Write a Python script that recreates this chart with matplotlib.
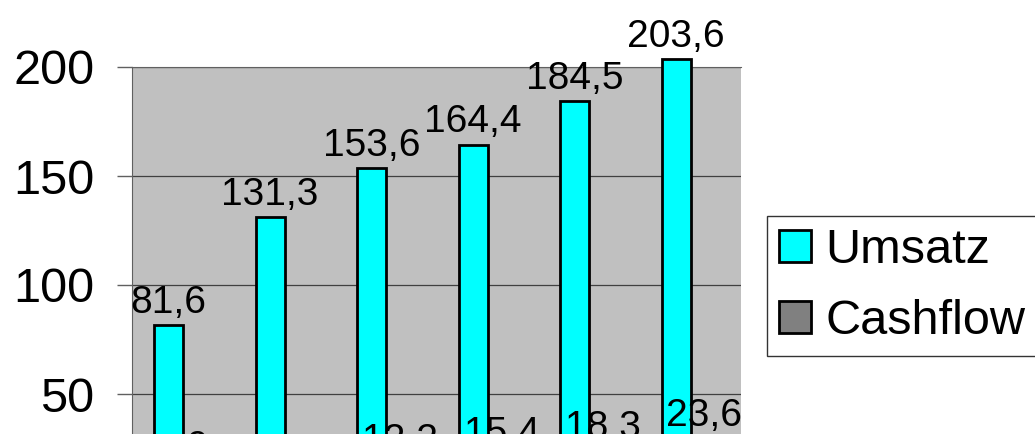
import matplotlib
matplotlib.use("Agg")
import matplotlib.pyplot as plt
import numpy as np

plt.rcParams['font.family'] = ['Liberation Sans', 'DejaVu Sans']

# data
jahre = ['1', '2', '3', '4', '5', '6']
umsatz = [81.6, 131.3, 153.6, 164.4, 184.5, 203.6]
cashflow = [9, 7.5, 12.2, 15.4, 18.3, 23.6]
y_ticks = [50, 100, 150, 200]


def fmt(v):
    # german decimal comma, whole numbers without decimals
    if float(v).is_integer():
        return str(int(v))
    return f"{v:.1f}".replace('.', ',')


fig = plt.figure(figsize=(10.35, 4.34), dpi=100)
# plot area runs below the picture edge (the original is cropped)
ax = fig.add_axes([132 / 1035, (434 - 503) / 434, 609 / 1035, 436 / 434])
ax.set_facecolor('#c0c0c0')

x = np.arange(len(jahre))
w = 0.286
off = 0.14

b1 = ax.bar(x - off, umsatz, w, color='#00ffff', edgecolor='black', linewidth=2,
            label='Umsatz', clip_on=False, zorder=3)
b2 = ax.bar(x + off, cashflow, w, color='#808080', edgecolor='black', linewidth=2,
            label='Cashflow', clip_on=False, zorder=3)

for xi, v in zip(x, umsatz):
    ax.annotate(fmt(v), (xi - off, v), xytext=(0, 3), textcoords='offset points',
                ha='center', va='bottom', fontsize=28, zorder=5, annotation_clip=False)
for xi, v in zip(x, cashflow):
    ax.annotate(fmt(v), (xi + off, v), xytext=(0, 12.5), textcoords='offset points',
                ha='center', va='bottom', fontsize=28, zorder=5, annotation_clip=False)

ax.set_xlim(-0.5, len(jahre) - 0.5)
ax.set_ylim(0, 200)
ax.set_yticks(y_ticks)
ax.set_yticklabels([str(t) for t in y_ticks])
ax.set_xticks([])
ax.tick_params(axis='y', direction='out', length=11, width=1, color='#606060',
               labelsize=35, pad=16)
ax.yaxis.grid(True, color='#404040', linewidth=0.9, zorder=1)
ax.set_axisbelow(True)

for s in ['right', 'bottom']:
    ax.spines[s].set_visible(False)
ax.spines['left'].set_color('#606060')
ax.spines['top'].set_color('#606060')

leg = fig.legend(handles=[b1, b2], loc='upper left',
                 bbox_to_anchor=(767 / 1035, 1 - 216 / 434), borderaxespad=0,
                 fontsize=35, frameon=True, fancybox=False, edgecolor='black',
                 handlelength=0.65, handleheight=0.65, handletextpad=0.3,
                 labelspacing=0.53, borderpad=0.25)
leg.get_frame().set_linewidth(1)

fig.savefig('out.png', dpi=100)
